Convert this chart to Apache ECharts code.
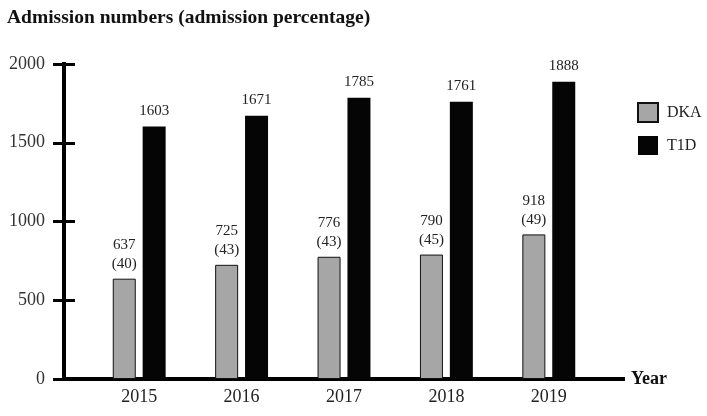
<!DOCTYPE html>
<html>
<head>
<meta charset="utf-8">
<script src="https://cdn.jsdelivr.net/npm/echarts@6/dist/echarts.min.js"></script>
<style>html,body{margin:0;padding:0;background:#fff;}#c{width:707px;height:416px;}</style>
</head>
<body>
<div id="c"></div>
<script>
const years = ['2015', '2016', '2017', '2018', '2019'];
const dka = [637, 725, 776, 790, 918];
const dkaPct = [40, 43, 43, 45, 49];
const t1d = [1603, 1671, 1785, 1761, 1888];
const yTicks = { min: 0, max: 2000, interval: 500 };

const FONT = "'Liberation Serif', 'Times New Roman', serif";
const chart = echarts.init(document.getElementById('c'));
chart.setOption({
  backgroundColor: '#fff',
  animation: false,
  title: {
    text: 'Admission numbers (admission percentage)',
    left: 2, top: 3,
    textStyle: { fontFamily: FONT, fontSize: 19.5, fontWeight: 'bold', color: '#111' }
  },
  legend: {
    data: ['DKA', 'T1D'],
    orient: 'vertical',
    left: 632, top: 97,
    icon: 'rect',
    itemWidth: 20, itemHeight: 19, itemGap: 13,
    textStyle: { fontFamily: FONT, fontSize: 16, color: '#222', padding: [0, 0, 0, 4] }
  },
  grid: [
    { left: 64, right: 84, top: 64, bottom: 37 },
    { left: 88, right: 107, top: 64, bottom: 37 }
  ],
  xAxis: [
    {
      gridIndex: 0, type: 'value', min: 0, max: 1,
      axisLine: { show: true, lineStyle: { color: '#000', width: 4, cap: 'square' } },
      axisTick: { show: false }, axisLabel: { show: false }, splitLine: { show: false },
      name: 'Year', nameLocation: 'end', nameGap: 8,
      nameTextStyle: { fontFamily: FONT, fontSize: 18, fontWeight: 'bold', color: '#111', padding: [0, 0, 4, 0] }
    },
    {
      gridIndex: 1, type: 'category', data: years,
      axisLine: { show: false }, axisTick: { show: false },
      axisLabel: { fontFamily: FONT, fontSize: 18, color: '#222', margin: 9 }
    }
  ],
  yAxis: [
    {
      gridIndex: 0, type: 'value', position: 'left', min: yTicks.min, max: yTicks.max, interval: yTicks.interval,
      axisLine: { show: true, lineStyle: { color: '#000', width: 4, cap: 'square' } },
      axisTick: { show: true, length: 11, lineStyle: { color: '#000', width: 3 } },
      axisLabel: { fontFamily: FONT, fontSize: 18, color: '#333', margin: 19, formatter: v => String(v) },
      splitLine: { show: false }
    },
    {
      gridIndex: 0, type: 'value', position: 'left', offset: 0, min: yTicks.min, max: yTicks.max, interval: yTicks.interval,
      axisLine: { show: false },
      axisTick: { show: true, inside: true, length: 11, lineStyle: { color: '#000', width: 3 } },
      axisLabel: { show: false }, splitLine: { show: false }
    },
    {
      gridIndex: 1, type: 'value', min: yTicks.min, max: yTicks.max, interval: yTicks.interval,
      show: false
    }
  ],
  series: [
    {
      name: 'DKA', type: 'bar', xAxisIndex: 1, yAxisIndex: 2,
      data: dka, barWidth: 23, barGap: '30%',
      itemStyle: { color: '#a6a6a6', borderColor: '#111', borderWidth: 1 },
      label: {
        show: true, position: 'top', distance: 5,
        fontFamily: FONT, fontSize: 15, color: '#222', lineHeight: 19,
        formatter: p => p.value + '\n(' + dkaPct[p.dataIndex] + ')'
      }
    },
    {
      name: 'T1D', type: 'bar', xAxisIndex: 1, yAxisIndex: 2,
      data: t1d, barWidth: 23, barGap: '30%',
      itemStyle: { color: '#050505' },
      label: {
        show: true, position: 'top', distance: 8,
        fontFamily: FONT, fontSize: 15, color: '#222'
      }
    }
  ]
});
</script>
</body>
</html>
